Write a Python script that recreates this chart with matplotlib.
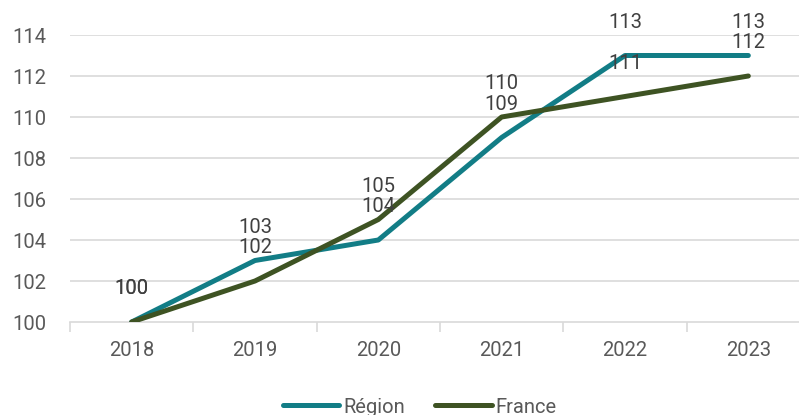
import matplotlib
matplotlib.use("Agg")
import matplotlib.pyplot as plt
from matplotlib.lines import Line2D

years = ["2018", "2019", "2020", "2021", "2022", "2023"]
region = [100, 103, 104, 109, 113, 113]
france = [100, 102, 105, 110, 111, 112]
yticks = [100, 102, 104, 106, 108, 110, 112, 114]

c_region = "#127D86"
c_france = "#3E5323"
grid_c = "#D9D9D9"
txt_c = "#595959"
lab_c = "#404040"

plt.rcParams['font.family'] = ['Roboto', 'DejaVu Sans']

fig = plt.figure(figsize=(7.99, 4.15), dpi=100)
ax = fig.add_axes([70/799, (415-322)/415, 740/799, (322-35)/415])
x = list(range(len(years)))

ax.plot(x, region, color=c_region, lw=3.6, solid_capstyle='round', solid_joinstyle='round', zorder=3)
ax.plot(x, france, color=c_france, lw=3.6, solid_capstyle='round', solid_joinstyle='round', zorder=4)

for xi, v in zip(x, region):
    ax.annotate(str(v), (xi, v), xytext=(0, 24), textcoords='offset points',
                ha='center', va='center', fontsize=14.5, color=lab_c, zorder=5)
for xi, v in zip(x, france):
    ax.annotate(str(v), (xi, v), xytext=(0, 24), textcoords='offset points',
                ha='center', va='center', fontsize=14.5, color=lab_c, zorder=5)

ax.set_xlim(-0.5, len(years) - 0.5)
ax.set_ylim(100, 114)
ax.set_yticks(yticks)
ax.set_yticklabels([str(t) for t in yticks])
ax.set_xticks(x)
ax.set_xticklabels(years)
ax.set_xticks([i + 0.5 for i in range(-1, len(years))], minor=True)

for t in yticks[1:]:
    ax.axhline(t, color=grid_c, lw=1.2, zorder=1)
for s in ['top', 'right', 'left']:
    ax.spines[s].set_visible(False)
ax.spines['bottom'].set_color(grid_c)
ax.spines['bottom'].set_linewidth(1.2)
ax.spines['bottom'].set_zorder(1)

ax.tick_params(axis='y', length=0, labelsize=14.5, labelcolor=txt_c, pad=17)
ax.tick_params(axis='x', which='major', length=0, labelsize=14.5, labelcolor=txt_c, pad=14)
ax.tick_params(axis='x', which='minor', length=7, width=1.2, color=grid_c)

handles = [Line2D([], [], color=c_region, lw=3.6, solid_capstyle='round'),
           Line2D([], [], color=c_france, lw=3.6, solid_capstyle='round')]
fig.legend(handles, ["Région", "France"], loc='center', bbox_to_anchor=(420/799, 1 - 407/415),
           ncol=2, frameon=False, fontsize=14.5, labelcolor=txt_c, handlelength=2.8,
           handletextpad=0.2, columnspacing=1.5)

fig.savefig("out.png", dpi=100)
